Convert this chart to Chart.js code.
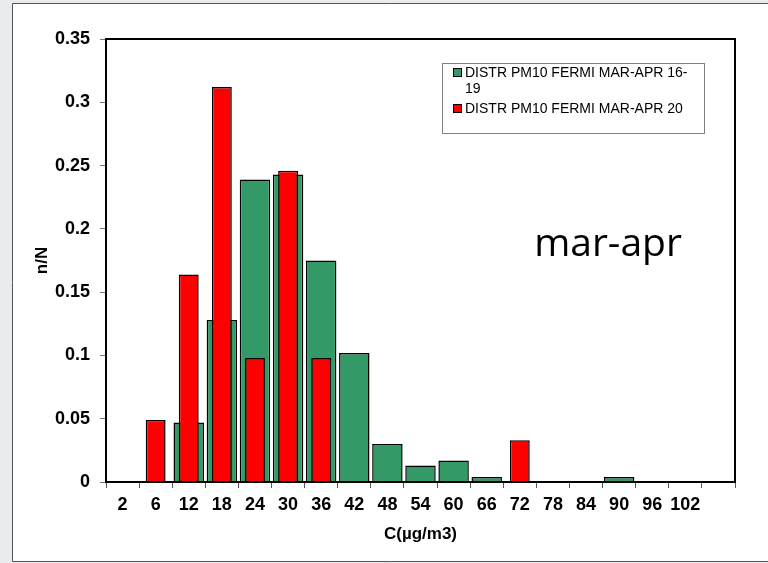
<!DOCTYPE html>
<html lang="en">
<head>
    <meta charset="UTF-8">
    <title>PM10 distribution mar-apr</title>
    <script src="https://cdn.jsdelivr.net/npm/chart.js"></script>
    <style>
        html, body { margin: 0; padding: 0; background: #e9ebee; }
        #wrap { width: 768px; height: 563px; position: relative; }
    </style>
</head>
<body>
    <div id="wrap">
        <canvas id="Chart1" width="768" height="563"></canvas>
    </div>

    <script>
        // concentration classes (µg/m3), last slot is empty
        const categories = ['2', '6', '12', '18', '24', '30', '36', '42', '48', '54', '60', '66', '72', '78', '84', '90', '96', '102', ''];

        // n/N for march-april 2016-2019
        const distr1619 = [0, 0, 0.047, 0.128, 0.239, 0.243, 0.175, 0.102, 0.030, 0.013, 0.017, 0.004, 0, 0, 0, 0.004, 0, 0, 0];
        // n/N for march-april 2020
        const distr20 = [0, 0.049, 0.164, 0.312, 0.098, 0.246, 0.098, 0, 0, 0, 0, 0, 0.033, 0, 0, 0, 0, 0, 0];

        const label1619 = 'DISTR PM10 FERMI MAR-APR 16-19';
        const label20 = 'DISTR PM10 FERMI MAR-APR 20';
        const periodText = 'mar-apr';

        const GREEN = '#339966';
        const RED = '#ff0000';
        const FONT = '"Liberation Sans", Arial, sans-serif';

        // grey page edge + white panel, plot frame, legend box and the big label
        const decorations = {
            id: 'decorations',
            beforeDraw(chart) {
                const c = chart.ctx;
                c.save();
                c.fillStyle = '#e9ebee';
                c.fillRect(0, 0, chart.width, chart.height);
                c.fillStyle = '#ffffff';
                c.fillRect(12, 3, chart.width - 12, 559);
                c.strokeStyle = '#555555';
                c.lineWidth = 1;
                c.beginPath();
                c.moveTo(chart.width, 3.5);
                c.lineTo(12.5, 3.5);
                c.lineTo(12.5, 561.5);
                c.lineTo(chart.width, 561.5);
                c.stroke();
                c.restore();
            },
            afterDraw(chart) {
                const c = chart.ctx;
                const a = chart.chartArea;
                c.save();
                // plot frame
                c.strokeStyle = '#000000';
                c.lineWidth = 2;
                c.strokeRect(a.left, a.top, a.right - a.left, a.bottom - a.top);

                // legend
                c.fillStyle = '#ffffff';
                c.fillRect(442, 63, 262, 70);
                c.strokeStyle = '#808080';
                c.lineWidth = 1;
                c.strokeRect(442.5, 63.5, 262, 70);

                c.font = '14px ' + FONT;
                c.textBaseline = 'alphabetic';
                c.textAlign = 'left';

                c.fillStyle = GREEN;
                c.fillRect(453, 68, 9, 9);
                c.strokeStyle = '#000000';
                c.strokeRect(453.5, 68.5, 8, 8);
                c.fillStyle = '#000000';
                const cut = label1619.lastIndexOf('-') + 1;
                c.fillText(label1619.slice(0, cut), 465, 77);
                c.fillText(label1619.slice(cut), 465, 93);

                c.fillStyle = RED;
                c.fillRect(453, 104, 9, 9);
                c.strokeRect(453.5, 104.5, 8, 8);
                c.fillStyle = '#000000';
                c.fillText(label20, 465, 113);

                // period label
                c.font = '39px "Open Sans", sans-serif';
                c.textAlign = 'center';
                c.fillText(periodText, 608, 256);
                c.restore();
            }
        };

        const ctx = document.getElementById('Chart1').getContext('2d');
        const chart = new Chart(ctx, {
            type: 'bar',
            data: {
                labels: categories,
                datasets: [
                    {
                        label: label1619,
                        data: distr1619,
                        backgroundColor: GREEN,
                        borderColor: '#000000',
                        borderWidth: 1.5,
                        barPercentage: 0.92,
                        categoryPercentage: 1.0,
                        grouped: false,
                        order: 1
                    },
                    {
                        label: label20,
                        data: distr20,
                        backgroundColor: RED,
                        borderColor: '#000000',
                        borderWidth: 1.5,
                        barPercentage: 0.6,
                        categoryPercentage: 1.0,
                        grouped: false,
                        order: 0
                    }
                ]
            },
            options: {
                responsive: false,
                animation: false,
                layout: { padding: { left: 12, top: 39, right: 33, bottom: 0 } },
                plugins: {
                    legend: { display: false },
                    tooltip: { enabled: false },
                    title: { display: false }
                },
                scales: {
                    x: {
                        afterFit(scale) { scale.height = 81; },
                        grid: {
                            display: true,
                            drawOnChartArea: false,
                            tickLength: 6,
                            color: '#555555',
                            offset: true
                        },
                        border: { display: true, color: '#000000', width: 2 },
                        ticks: {
                            color: '#000000',
                            padding: 6,
                            maxRotation: 0,
                            autoSkip: false,
                            font: { family: FONT, size: 18, weight: 'bold' }
                        },
                        title: {
                            display: true,
                            text: 'C(µg/m3)',
                            color: '#000000',
                            padding: { top: 0, bottom: 18 },
                            font: { family: FONT, size: 17, weight: 'bold' }
                        }
                    },
                    y: {
                        min: 0,
                        max: 0.35,
                        afterFit(scale) { scale.width = 94; },
                        grid: {
                            display: true,
                            drawOnChartArea: false,
                            tickLength: 6,
                            color: '#777777'
                        },
                        border: { display: true, color: '#000000', width: 2 },
                        ticks: {
                            stepSize: 0.05,
                            color: '#000000',
                            padding: 10,
                            callback: v => String(+v.toFixed(2)),
                            font: { family: FONT, size: 18, weight: 'bold' }
                        },
                        title: {
                            display: true,
                            text: 'n/N',
                            color: '#000000',
                            padding: { top: 20, bottom: 0 },
                            font: { family: FONT, size: 17, weight: 'bold' }
                        }
                    }
                }
            },
            plugins: [decorations]
        });
    </script>
</body>
</html>
